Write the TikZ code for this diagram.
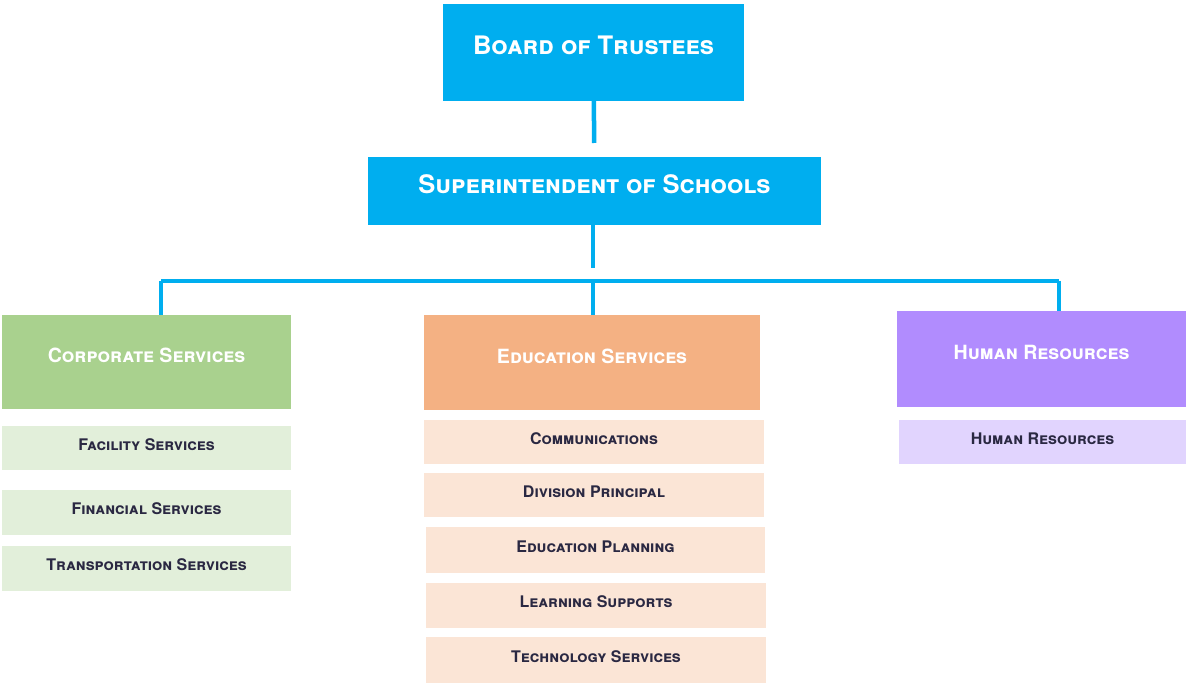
\documentclass[tikz,border=0pt]{standalone}
\usepackage{fontspec}
\setmainfont{TeX Gyre Heros}
\usetikzlibrary{positioning}
\definecolor{trustblue}{HTML}{00AEEF}
\definecolor{corpgreen}{HTML}{A9D18E}
\definecolor{corplight}{HTML}{E2EFDA}
\definecolor{eduorange}{HTML}{F4B183}
\definecolor{edulight}{HTML}{FBE5D6}
\definecolor{hrpurple}{HTML}{B18CFE}
\definecolor{hrlight}{HTML}{E1D4FE}
\definecolor{subtext}{HTML}{2A2842}
\tikzset{topbox/.style={fill=trustblue,text=white,inner sep=0pt,outer sep=0pt,
	font=\fontsize{25.5}{25.5}\selectfont\bfseries\scshape,text height=18pt,text depth=13pt}}
\tikzset{deptbox/.style={fill=#1,text=white,inner sep=0pt,outer sep=0pt,
	font=\fontsize{19.6}{19.6}\selectfont\bfseries\scshape,text height=14pt,text depth=12pt}}
\tikzset{unitbox/.style={fill=#1,text=subtext,inner sep=0pt,outer sep=0pt,
	font=\fontsize{16}{16}\selectfont\bfseries\scshape,text height=12pt,text depth=8pt}}
\tikzset{link/.style={draw=trustblue,line width=4.5pt}}

\begin{document}
\begin{tikzpicture}[x=1pt,y=-1pt]
	\useasboundingbox[fill=white] (0,0) rectangle (1186,684);
	% top of the chart
	\node[topbox,minimum width=301pt,minimum height=97pt] (board) at (593.5,52.5) {Board of Trustees};
	\node[topbox,minimum width=453pt,minimum height=68pt] (super) at (594.5,191) {Superintendent of Schools};
	% departments
	\node[deptbox=corpgreen,minimum width=289pt,minimum height=94pt] (corp) at (146.5,362) {Corporate Services};
	\node[deptbox=eduorange,minimum width=336pt,minimum height=95pt] (edu) at (592,362.5) {Education Services};
	\node[deptbox=hrpurple,minimum width=289pt,minimum height=96pt] (hr) at (1041.5,359) {Human Resources};
	% units
	\node[unitbox=corplight,minimum width=289pt,minimum height=44pt] (facility) at (146.5,448) {Facility Services};
	\node[unitbox=corplight,minimum width=289pt,minimum height=45pt] (financial) at (146.5,512.5) {Financial Services};
	\node[unitbox=corplight,minimum width=289pt,minimum height=45pt] (transport) at (146.5,568.5) {Transportation Services};
	\node[unitbox=edulight,minimum width=340pt,minimum height=44pt] (comms) at (594,442) {Communications};
	\node[unitbox=edulight,minimum width=340pt,minimum height=44pt] (division) at (594,495) {Division Principal};
	\node[unitbox=edulight,minimum width=339pt,minimum height=46pt] (planning) at (595.5,550) {Education Planning};
	\node[unitbox=edulight,minimum width=340pt,minimum height=45pt] (learning) at (596,605.5) {Learning Supports};
	\node[unitbox=edulight,minimum width=340pt,minimum height=46pt] (tech) at (596,660) {Technology Services};
	\node[unitbox=hrlight,minimum width=287pt,minimum height=44pt] (hrunit) at (1042.5,442) {Human Resources};
	% connectors
	\coordinate (busl) at (161,281);
	\coordinate (busm) at (593,281);
	\coordinate (busr) at (1059,281);
	\draw[link,shorten >=14pt] (board) -- (super);
	\draw[link,shorten >=13pt] (super.south -| busm) -- (busm);
	\draw[link,line width=4pt] (busl) -- (busr);
	\draw[link,line width=3.5pt] (busl) -- (busl |- corp.north);
	\draw[link,line width=3.5pt] (busm) -- (busm |- edu.north);
	\draw[link,line width=3.5pt] (busr) -- (busr |- hr.north);
\end{tikzpicture}
\end{document}
